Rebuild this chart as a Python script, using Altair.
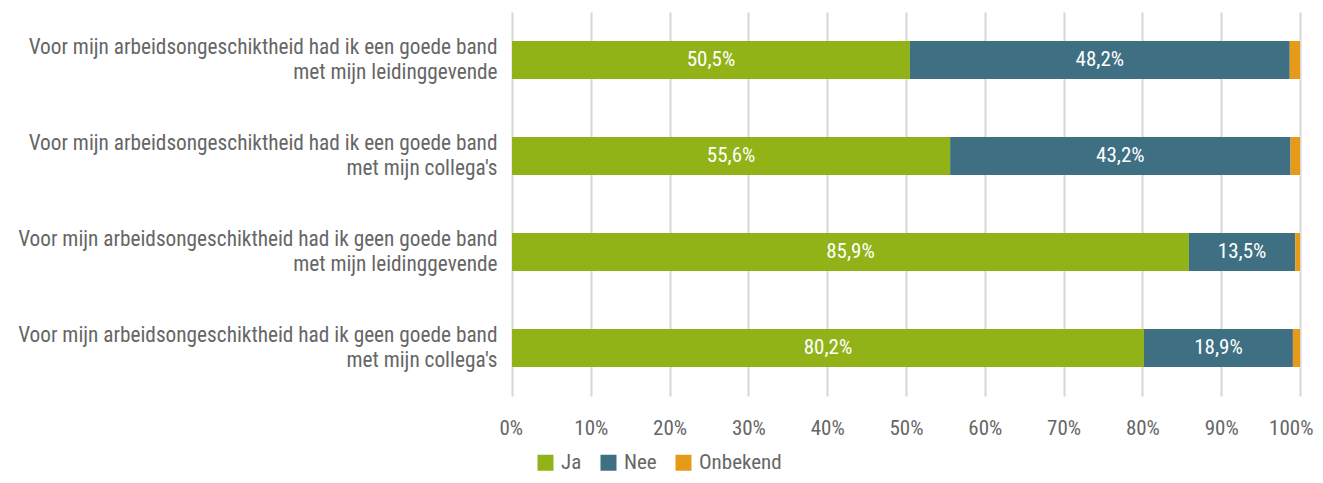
import altair as alt
import pandas as pd

categories = [
    "Voor mijn arbeidsongeschiktheid had ik een goede band|met mijn leidinggevende",
    "Voor mijn arbeidsongeschiktheid had ik een goede band|met mijn collega's",
    "Voor mijn arbeidsongeschiktheid had ik geen goede band|met mijn leidinggevende",
    "Voor mijn arbeidsongeschiktheid had ik geen goede band|met mijn collega's",
]
series = ["Ja", "Nee", "Onbekend"]
ja = [50.5, 55.6, 85.9, 80.2]
nee = [48.2, 43.2, 13.5, 18.9]
onbekend = [1.3, 1.2, 0.6, 0.9]
colors = ["#91B317", "#3E6F83", "#E59B17"]
x_ticks = [0, 10, 20, 30, 40, 50, 60, 70, 80, 90, 100]

rows = []
for i, c in enumerate(categories):
    for s, vals in zip(series, [ja, nee, onbekend]):
        rows.append({"cat": c, "serie": s, "v": vals[i], "order": series.index(s)})
df = pd.DataFrame(rows)

FONT = "Roboto Condensed, Liberation Sans Narrow, DejaVu Sans Condensed, sans-serif"
FS = 21

base = alt.Chart(df).transform_stack(
    stack="v", groupby=["cat"], as_=["x0", "x1"], sort=[alt.SortField("order")]
).transform_calculate(
    mid="(datum.x0 + datum.x1) / 2",
    lbl="replace(format(datum.v, '.1f'), '.', ',') + '%'",
)

y_enc = alt.Y(
    "cat:N",
    sort=categories,
    title=None,
    scale=alt.Scale(paddingInner=0, paddingOuter=0),
    axis=alt.Axis(
        labelExpr="split(datum.label, '|')",
        labelAlign="right",
        labelPadding=15,
        labelFontSize=21.3,
        labelLineHeight=25,
        labelOffset=-12,
        labelColor="#666666",
        labelFont=FONT,
        labelLimit=700,
        ticks=False,
        domain=False,
        grid=False,
    ),
)

bars = base.mark_bar(size=38).encode(
    y=y_enc,
    x=alt.X(
        "x0:Q",
        title=None,
        scale=alt.Scale(domain=[0, 100], nice=False),
        axis=alt.Axis(
            values=x_ticks,
            labelExpr="datum.value + '%'",
            labelFontSize=FS,
            labelColor="#666666",
            labelFont=FONT,
            labelPadding=21,
            labelFlush=True,
            labelFlushOffset=13,
            ticks=False,
            domain=False,
            grid=True,
            gridColor="#D6D6D6",
            gridWidth=2,
        ),
    ),
    x2="x1:Q",
    color=alt.Color(
        "serie:N",
        scale=alt.Scale(domain=series, range=colors),
        legend=alt.Legend(
            title=None,
            orient="none",
            legendX=23,
            legendY=440,
            direction="horizontal",
            symbolType="square",
            symbolSize=256,
            symbolStrokeWidth=0,
            labelFontSize=FS,
            labelColor="#666666",
            labelFont=FONT,
            columnPadding=16,
            labelOffset=5,
        ),
    ),
    order=alt.Order("order:Q"),
)

labels = base.transform_filter("datum.serie != 'Onbekend'").mark_text(
    color="white", fontSize=FS, font=FONT
).encode(
    y=alt.Y("cat:N", sort=categories),
    x=alt.X("mid:Q"),
    text="lbl:N",
)

chart = alt.layer(bars, labels).properties(
    width=788,
    height=384,
    autosize=alt.AutoSizeParams(type="none"),
    padding={"left": 504, "top": 4, "right": 15, "bottom": 79},
).configure_view(stroke=None)

chart.save("out.html", embed_options={"renderer": "svg", "actions": False})
